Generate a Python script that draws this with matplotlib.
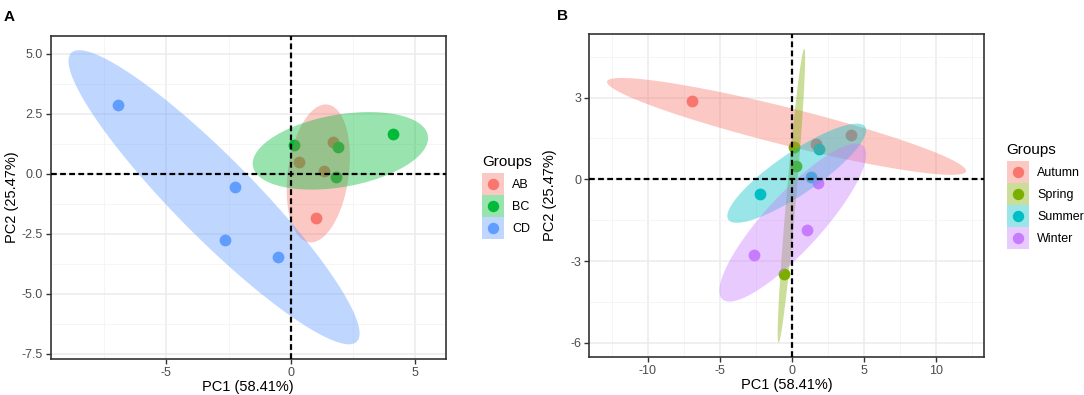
import numpy as np
import matplotlib.pyplot as plt
from matplotlib.lines import Line2D
from matplotlib.ticker import FixedLocator, MultipleLocator

plt.rcParams['font.family'] = ['Liberation Sans', 'DejaVu Sans']
plt.rcParams['axes.unicode_minus'] = False

# PCA scores (same 12 samples in both panels)
pc1 = [-6.93, -2.23, -2.64, -0.53, 0.12, 1.91, 4.12, 1.81, 1.71, 0.32, 1.35, 1.03]
pc2 = [2.88, -0.55, -2.78, -3.47, 1.18, 1.13, 1.64, -0.12, 1.31, 0.50, 0.10, -1.85]
site = ['CD', 'CD', 'CD', 'CD', 'BC', 'BC', 'BC', 'BC', 'AB', 'AB', 'AB', 'AB']
season = ['Autumn', 'Summer', 'Winter', 'Spring', 'Spring', 'Summer',
          'Autumn', 'Winter', 'Autumn', 'Spring', 'Summer', 'Winter']

site_levels = ['AB', 'BC', 'CD']
site_colors = ['#F8766D', '#00BA38', '#619CFF']
season_levels = ['Autumn', 'Spring', 'Summer', 'Winter']
season_colors = ['#F8766D', '#7CAE00', '#00BFC4', '#C77CFF']

xlab = 'PC1 (58.41%)'
ylab = 'PC2 (25.47%)'

ell_level = 0.90
ell_r = np.sqrt(-2 * np.log(1 - ell_level))


def draw_panel(ax, groups, levels, colors, ypad):
    x = np.array(pc1)
    y = np.array(pc2)
    g = np.array(groups)
    for lev, col in zip(levels, colors):
        m = g == lev
        ax.scatter(x[m], y[m], s=72, color=col, linewidths=0, zorder=3)
    t = np.linspace(0, 2 * np.pi, 241)
    circ = np.column_stack([np.cos(t), np.sin(t)])
    for lev, col in zip(levels, colors):
        m = g == lev
        pts = np.column_stack([x[m], y[m]])
        mu = pts.mean(axis=0)
        L = np.linalg.cholesky(np.cov(pts.T))
        poly = mu + ell_r * circ @ L.T
        ax.fill(poly[:, 0], poly[:, 1], color=col, alpha=0.4, lw=0, zorder=4)
    ax.axhline(0, color='black', lw=1.6, ls=(0, (2.6, 1.5)), zorder=5)
    ax.axvline(0, color='black', lw=1.6, ls=(0, (2.6, 1.5)), zorder=5)

    ax.set_axisbelow(True)
    ax.grid(which='major', color='#EBEBEB', lw=1.1)
    ax.grid(which='minor', color='#F4F4F4', lw=0.6)
    for s in ax.spines.values():
        s.set_color('#333333')
        s.set_linewidth(1.2)
    ax.tick_params(which='major', direction='out', length=3.5, width=1,
                   color='#333333', labelcolor='#4D4D4D', labelsize=9, pad=2)
    ax.tick_params(which='minor', length=0)
    ax.set_xlabel(xlab, fontsize=10.5, labelpad=1)
    ax.set_ylabel(ylab, fontsize=10.5, labelpad=ypad)


def add_legend(fig, levels, colors, x0, y0):
    handles = []
    for col in colors:
        box = Line2D([], [], ls='none', marker='s', markersize=15.8,
                     markerfacecolor=col, markeredgewidth=0, alpha=0.4)
        dot = Line2D([], [], ls='none', marker='o', markersize=8.2,
                     markerfacecolor=col, markeredgewidth=0)
        handles.append((box, dot))
    fig.legend(handles, levels, loc='upper left', bbox_to_anchor=(x0, y0),
               frameon=False, title='Groups', title_fontsize=11, fontsize=9,
               alignment='left', borderpad=0, handlelength=1.76,
               labelspacing=0.8, handletextpad=0.67, borderaxespad=0)


fig = plt.figure(figsize=(10.84, 3.95), dpi=100)

axA = fig.add_axes([0.0466, 0.0911, 0.3649, 0.819])
draw_panel(axA, site, site_levels, site_colors, 2)
axA.xaxis.set_major_locator(FixedLocator([-5, 0, 5]))
axA.xaxis.set_minor_locator(MultipleLocator(2.5))
axA.yaxis.set_major_locator(FixedLocator([-7.5, -5, -2.5, 0, 2.5, 5]))
axA.yaxis.set_minor_locator(MultipleLocator(1.25))
axA.set_yticklabels(['-7.5', '-5.0', '-2.5', '0.0', '2.5', '5.0'])
add_legend(fig, site_levels, site_colors, 0.4446, 0.6076)

axB = fig.add_axes([0.5434, 0.0954, 0.3644, 0.8185])
draw_panel(axB, season, season_levels, season_colors, 10)
axB.xaxis.set_major_locator(FixedLocator([-10, -5, 0, 5, 10]))
axB.xaxis.set_minor_locator(MultipleLocator(2.5))
axB.yaxis.set_major_locator(FixedLocator([-6, -3, 0, 3]))
axB.yaxis.set_minor_locator(MultipleLocator(1.5))
add_legend(fig, season_levels, season_colors, 0.9287, 0.638)

fig.text(0.003, 0.975, 'A', fontsize=11, fontweight='bold', va='top')
fig.text(0.514, 0.978, 'B', fontsize=11, fontweight='bold', va='top')

fig.savefig('out.png', dpi=100)
